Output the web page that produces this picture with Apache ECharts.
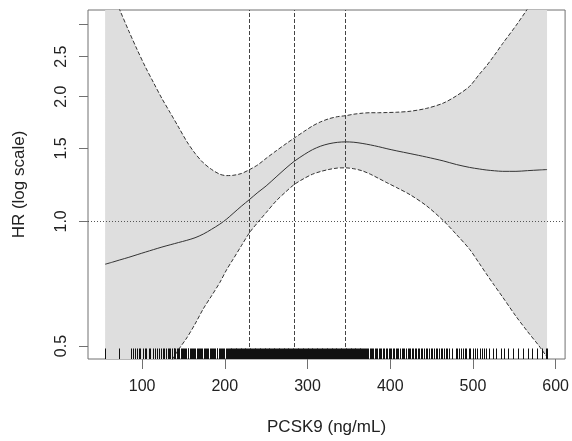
<!DOCTYPE html>
<html>
<head>
<meta charset="utf-8">
<script src="https://cdn.jsdelivr.net/npm/echarts@6/dist/echarts.min.js"></script>
<style>
  html, body { margin: 0; padding: 0; background: #fff; }
  #chart { width: 572px; height: 441px; }
</style>
</head>
<body>
<div id="chart"></div>
<script>
// spline fit of HR against PCSK9
const pcsk9 = [55.3, 64, 73, 84, 94, 104, 114, 124, 134, 144, 154, 164, 174, 184, 194, 202, 210, 220, 230, 240,
  250, 262, 274, 284, 296, 306, 316, 326, 336, 346, 356, 366, 376, 386, 396, 408, 424, 444, 464, 480,
  496, 508, 516, 526, 536, 552, 566, 580, 589.6];
const hr = [0.788, 0.797, 0.807, 0.819, 0.831, 0.843, 0.855, 0.867, 0.878, 0.889, 0.90, 0.913, 0.932, 0.957, 0.985, 1.012, 1.045, 1.088, 1.13, 1.175,
  1.218, 1.28, 1.345, 1.397, 1.45, 1.49, 1.52, 1.54, 1.552, 1.556, 1.553, 1.543, 1.53, 1.515, 1.498, 1.48, 1.458, 1.43, 1.40, 1.372,
  1.35, 1.338, 1.331, 1.325, 1.321, 1.321, 1.326, 1.331, 1.334];
const hrUpper = [3.95, 3.56, 3.24, 2.88, 2.60, 2.36, 2.16, 1.98, 1.83, 1.69, 1.56, 1.46, 1.385, 1.335, 1.30, 1.29, 1.292, 1.305, 1.334, 1.37,
  1.42, 1.48, 1.54, 1.59, 1.65, 1.70, 1.74, 1.77, 1.79, 1.80, 1.815, 1.825, 1.83, 1.83, 1.832, 1.835, 1.845, 1.875, 1.93, 2.01,
  2.12, 2.27, 2.37, 2.52, 2.69, 2.97, 3.26, 3.58, 3.85];
const hrLower = [0.22, 0.24, 0.26, 0.29, 0.32, 0.36, 0.39, 0.42, 0.455, 0.49, 0.523, 0.565, 0.615, 0.661, 0.712, 0.763, 0.81, 0.873, 0.94, 0.995,
  1.05, 1.12, 1.18, 1.228, 1.27, 1.30, 1.32, 1.335, 1.345, 1.347, 1.34, 1.325, 1.30, 1.27, 1.24, 1.206, 1.16, 1.09, 1.005, 0.93,
  0.856, 0.79, 0.748, 0.70, 0.656, 0.59, 0.542, 0.50, 0.47];

// dashed reference lines (PCSK9 cut points)
const cutpoints = [230, 284, 346];

// observed PCSK9 values for the rug
const rugValues = [
  55.5, 72, 86, 89, 91, 94, 96, 98, 101, 103, 105, 108, 110, 113, 116, 118, 121, 123, 125, 127, 129, 131, 132, 134, 136, 138, 139, 140,
  142, 143.5, 145, 146.5, 148, 149, 150.5, 152, 153.5, 155, 156, 157.5, 159, 160.5, 162, 163, 164.5, 166, 167.5, 169, 170, 171.5,
  173, 174.5, 176, 177, 178.5, 180, 181.5, 183, 184, 185.5, 187, 188.5, 190, 191, 192.5, 194, 195.5, 197, 198, 199.5, 201, 202.5, 204,
  205, 206, 207, 208, 209, 210, 211, 212, 213, 214, 215, 216, 217, 218, 219, 220, 221, 222,
  223, 224, 225, 226, 227, 228, 229, 230, 231, 232, 233, 234, 235, 236, 237, 238, 239, 240, 241, 242, 243, 244, 245, 246, 247, 248,
  249, 250, 251, 252, 253, 254, 255, 256, 257, 258, 259, 260, 261, 262, 263, 264, 265, 266, 267, 268, 269, 270, 271, 272, 273, 274,
  275, 276, 277, 278, 279, 280, 281, 282, 283, 284, 285, 286, 287, 288, 289, 290, 291, 292, 293, 294, 295, 296, 297, 298, 299, 300,
  301, 302, 303, 304, 305, 306, 307, 308, 309, 310, 311, 312, 313, 314, 315, 316, 317, 318, 319, 320, 321, 322, 323, 324, 325, 326,
  327, 328, 329, 330, 331, 332, 333, 334, 335, 336, 337, 338, 339, 340, 341, 342, 343, 344, 345, 346, 347, 348, 349, 350, 351, 352, 353,
  354, 355, 356, 357, 358, 359, 360, 361, 362, 363, 364, 365, 366, 367, 368,
  369, 370.5, 372, 373.5, 375, 376.5, 378, 379.5, 381, 382.5, 384, 386, 387.5, 389, 391, 393, 394.5, 396, 398, 400, 401.5, 403,
  405, 407, 408.5, 410, 412, 414, 415.5, 417, 419, 421, 422.5, 424, 426, 428, 430, 431.5, 433, 435, 437, 439, 441, 443, 445, 447,
  449, 451, 453, 455, 457, 459, 461, 463, 465, 467, 469, 471,
  475, 479, 481, 483, 486, 488, 490, 492, 495, 497, 500, 503, 505, 508, 511, 513, 516,
  520, 524, 528, 534, 538, 542, 548, 554, 560, 566, 572, 578, 584, 588, 590
];

const xTicks = [100, 200, 300, 400, 500, 600];
const yTicks = [0.5, 1.0, 1.5, 2.0, 2.5, 3.0];
const yLabels = [0.5, 1.0, 1.5, 2.0, 2.5];

const X_MIN = 34.6, X_MAX = 611.4;
const Y_MIN = 0.4652, Y_MAX = 3.24;

const chart = echarts.init(document.getElementById('chart'));

const textColor = '#222';
const frameColor = '#707070';
const font = '"Liberation Sans", Arial, sans-serif';

function curve(values, dashed, z) {
  return {
    type: 'line',
    z: z,
    silent: true,
    showSymbol: false,
    smooth: 0.3,
    data: pcsk9.map((x, i) => [x, values[i]]),
    lineStyle: { color: '#333', width: 1, type: dashed ? [4, 2] : 'solid' }
  };
}

const fitLine = curve(hr, false, 4);
fitLine.markLine = {
  silent: true,
  symbol: 'none',
  label: { show: false },
  data: [
    { yAxis: 1, lineStyle: { color: '#555', width: 1, type: [1, 2] } }
  ].concat(cutpoints.map(v => ({ xAxis: v, lineStyle: { color: '#444', width: 1, type: [4, 2] } })))
};

const option = {
  animation: false,
  grid: {
    left: 88, right: 2, top: 10, bottom: 81,
    show: true, borderColor: frameColor, borderWidth: 1, backgroundColor: 'transparent'
  },
  xAxis: {
    type: 'value',
    min: X_MIN, max: X_MAX,
    name: 'PCSK9 (ng/mL)',
    nameLocation: 'middle',
    nameGap: 60,
    nameTextStyle: { color: textColor, fontSize: 17, fontFamily: font },
    axisLine: { show: false },
    axisTick: { show: true, length: 10, customValues: xTicks, lineStyle: { color: frameColor } },
    axisLabel: { customValues: xTicks, margin: 20, color: textColor, fontSize: 16, fontFamily: font },
    splitLine: { show: false }
  },
  yAxis: {
    type: 'log',
    logBase: 10,
    min: Y_MIN, max: Y_MAX,
    name: 'HR (log scale)',
    nameLocation: 'middle',
    nameGap: 60,
    nameRotate: 90,
    nameTextStyle: { color: textColor, fontSize: 17, fontFamily: font },
    axisLine: { show: false },
    axisTick: { show: true, length: 9, customValues: yTicks, lineStyle: { color: frameColor } },
    axisLabel: {
      customValues: yLabels, rotate: 90, margin: 18, color: textColor, fontSize: 16, fontFamily: font,
      formatter: (v) => Number(v).toFixed(1)
    },
    splitLine: { show: false }
  },
  series: [
    {
      // confidence band
      type: 'custom',
      clip: true,
      silent: true,
      z: 1,
      data: [[pcsk9[0], 1]],
      renderItem: function (params, api) {
        const pts = [];
        for (let i = 0; i < pcsk9.length; i++) pts.push(api.coord([pcsk9[i], hrUpper[i]]));
        for (let i = pcsk9.length - 1; i >= 0; i--) pts.push(api.coord([pcsk9[i], hrLower[i]]));
        return { type: 'polygon', shape: { points: pts }, style: { fill: '#dedede' } };
      }
    },
    curve(hrUpper, true, 3),
    curve(hrLower, true, 3),
    fitLine,
    {
      // rug of observations
      type: 'custom',
      clip: true,
      silent: true,
      z: 5,
      data: rugValues.map(v => [v, Y_MIN]),
      renderItem: function (params, api) {
        const p = api.coord([api.value(0), Y_MIN]);
        const x = Math.round(p[0]) + 0.5;
        return {
          type: 'line',
          shape: { x1: x, y1: p[1], x2: x, y2: p[1] - 10.5 },
          style: { stroke: '#111', lineWidth: 1 }
        };
      }
    }
  ]
};

chart.setOption(option);
</script>
</body>
</html>
